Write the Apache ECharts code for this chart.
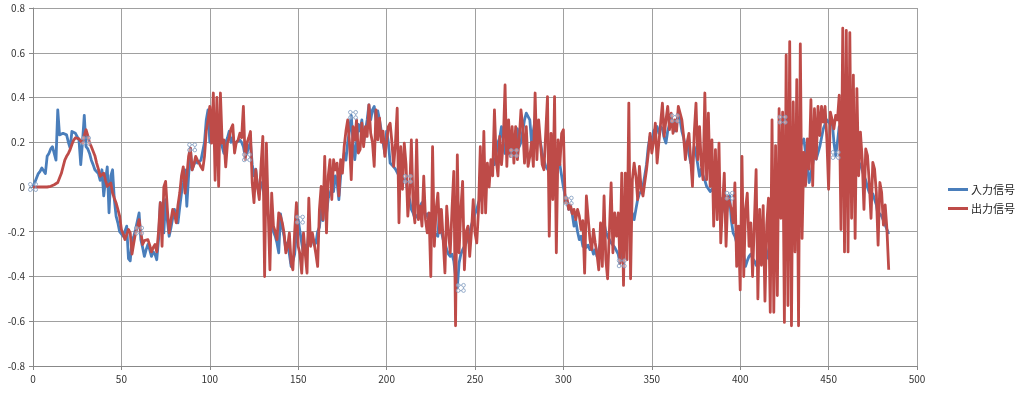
<!DOCTYPE html>
<html>
<head>
<meta charset="utf-8">
<script src="https://cdn.jsdelivr.net/npm/echarts@6/dist/echarts.min.js"></script>
<style>
html,body{margin:0;padding:0;background:#fff;}
#chart{width:1024px;height:394px;}
</style>
</head>
<body>
<div id="chart"></div>
<script>
// ---- Data ----
const seriesNames = ['入力信号', '出力信号'];
const xTicks = [0, 50, 100, 150, 200, 250, 300, 350, 400, 450, 500];
const yTicks = [-0.8, -0.6, -0.4, -0.2, 0, 0.2, 0.4, 0.6, 0.8];

// 入力信号 (input), index = sample number
const inputSignal = [
  0, 0.02, 0.04, 0.06, 0.07, 0.085, 0.08, 0.06, 0.137, 0.15,
  0.17, 0.18, 0.185, 0.12, 0.345, 0.233, 0.235, 0.24, 0.238, 0.233,
  0.2, 0.174, 0.248, 0.245, 0.24, 0.225, 0.21, 0.1, 0.2, 0.32,
  0.18, 0.17, 0.15, 0.12, 0.1, 0.077, 0.07, 0.06, 0.03, 0.077,
  -0.04, 0.03, 0.09, -0.115, 0.05, 0.077, -0.056, -0.13, -0.16, -0.2,
  -0.21, -0.22, -0.228, -0.175, -0.32, -0.33, -0.24, -0.22, -0.19, -0.195,
  -0.116, -0.235, -0.27, -0.31, -0.28, -0.257, -0.28, -0.31, -0.29, -0.3,
  -0.325, -0.235, -0.07, -0.15, -0.205, -0.057, -0.15, -0.22, -0.183, -0.14,
  -0.1, -0.13, -0.16, -0.09, -0.027, 0.02, 0.077, -0.086, 0.05, 0.174,
  0.077, 0.1, 0.12, 0.107, 0.107, 0.12, 0.12, 0.2, 0.3, 0.345,
  0.2, 0.3, 0.25, 0.18, 0.15, 0.22, 0.2, 0.18, 0.15, 0.2,
  0.22, 0.25, 0.2, 0.22, 0.18, 0.2, 0.196, 0.21, 0.2, 0.18,
  0.137, 0.15, 0.18, 0.2, 0.1, 0.05, 0.08, 0.0, -0.03, 0.02,
  0.003, -0.05, -0.1, -0.13, -0.15, -0.18, -0.2, -0.22, -0.25, -0.294,
  -0.12, -0.18, -0.22, -0.28, -0.25, -0.3, -0.355, -0.33, -0.3, -0.2,
  -0.146, -0.2, -0.25, -0.3, -0.26, -0.28, -0.2, -0.24, -0.22, -0.26,
  -0.25, -0.2, -0.18, -0.1, -0.15, -0.05, -0.12, -0.05, -0.03, 0.0,
  -0.02, 0.05, 0.02, -0.056, 0.05, 0.1, 0.15, 0.12, 0.2, 0.25,
  0.32, 0.2, 0.122, 0.2, 0.28, 0.25, 0.3, 0.2, 0.25, 0.3,
  0.367, 0.3, 0.345, 0.36, 0.3, 0.34, 0.3, 0.25, 0.2, 0.15,
  0.25, 0.2, 0.107, 0.1, 0.09, 0.08, 0.077, 0.05, 0.04, 0.02,
  0.018, 0.036, -0.03, -0.056, -0.1, -0.116, -0.14, -0.146, -0.12, -0.086,
  -0.07, -0.1, -0.13, -0.12, -0.16, -0.2, -0.22, -0.205, -0.205, -0.22,
  -0.1, -0.2, -0.235, -0.25, -0.28, -0.3, -0.31, -0.3, -0.33, -0.4,
  -0.45, -0.34, -0.3, -0.28, -0.265, -0.25, -0.22, -0.2, -0.17, -0.146,
  -0.12, -0.1, -0.07, -0.05, -0.03, -0.01, 0.003, 0.02, 0.05, 0.08,
  0.12, 0.1, 0.15, 0.2, 0.22, 0.27, 0.2, 0.15, 0.18, 0.15,
  0.152, 0.2, 0.22, 0.25, 0.26, 0.18, 0.2, 0.25, 0.3, 0.33,
  0.338, 0.3, 0.2, 0.25, 0.3, 0.27, 0.22, 0.2, 0.15, 0.12,
  0.092, 0.08, 0.07, 0.06, 0.08, 0.1, 0.11, 0.122, 0.1, 0.05,
  0.0, -0.04, -0.061, -0.1, -0.09, -0.12, -0.175, -0.15, -0.2, -0.235,
  -0.22, -0.265, -0.25, -0.27, -0.26, -0.28, -0.27, -0.3, -0.28, -0.31,
  -0.28, -0.25, -0.2, -0.16, -0.2, -0.22, -0.235, -0.25, -0.26, -0.27,
  -0.265, -0.3, -0.341, -0.25, -0.205, -0.18, -0.12, -0.086, -0.1, -0.12,
  -0.146, -0.1, -0.056, -0.03, -0.02, 0.003, 0.05, 0.1, 0.18, 0.226,
  0.2, 0.25, 0.26, 0.27, 0.24, 0.27, 0.26, 0.22, 0.196, 0.25,
  0.28, 0.3, 0.307, 0.25, 0.28, 0.33, 0.3, 0.25, 0.22, 0.18,
  0.2, 0.15, 0.107, 0.12, 0.18, 0.15, 0.1, 0.048, 0.08, 0.05,
  0.03, 0.003, 0.01, -0.02, -0.01, -0.027, -0.03, -0.05, -0.04, -0.06,
  -0.05, -0.1, -0.13, -0.08, -0.039, -0.15, -0.205, -0.22, -0.25, -0.265,
  -0.265, -0.28, -0.3, -0.355, -0.33, -0.31, -0.3, -0.32, -0.33, -0.35,
  -0.35, -0.33, -0.3, -0.28, -0.25, -0.3, -0.32, -0.2, -0.15, -0.1,
  -0.1, -0.05, 0.0, 0.05, 0.1, 0.05, 0.08, 0.1, 0.12, 0.15,
  0.12, 0.15, 0.18, 0.2, 0.18, 0.2, 0.215, 0.15, 0.1, 0.02,
  0.02, 0.1, 0.155, 0.125, 0.125, 0.18, 0.22, 0.26, 0.28, 0.3,
  0.3, 0.28, 0.3, 0.2, 0.14, 0.2, 0.27, 0.25, 0.27, 0.2,
  0.2, 0.18, 0.15, 0.17, 0.14, 0.12, 0.13, 0.11, 0.1, 0.095,
  0.05, 0.03, 0.0, -0.025, -0.02, -0.03, -0.055, -0.08, -0.13, -0.12,
  -0.13, -0.15, -0.17, -0.19, -0.21
];

// 出力信号 (output), index = sample number
const outputSignal = [
  0, 0, 0, 0, 0, 0, 0, 0, 0, 0,
  0.003, 0.005, 0.01, 0.015, 0.02, 0.04, 0.06, 0.09, 0.12, 0.137,
  0.15, 0.167, 0.19, 0.21, 0.22, 0.218, 0.215, 0.21, 0.196, 0.23,
  0.256, 0.23, 0.196, 0.18, 0.174, 0.14, 0.107, 0.08, 0.048, 0.05,
  0.062, 0.03, 0.003, 0.01, 0.018, -0.027, -0.05, -0.071, -0.1, -0.13,
  -0.19, -0.21, -0.235, -0.235, -0.19, -0.205, -0.3, -0.25, -0.205, -0.18,
  -0.146, -0.2, -0.257, -0.24, -0.24, -0.235, -0.26, -0.29, -0.27, -0.257,
  -0.29, -0.2, -0.07, -0.265, 0.0, 0.025, -0.1, -0.205, -0.15, -0.1,
  -0.12, -0.16, -0.08, -0.027, 0.05, 0.09, -0.027, 0.05, 0.137, 0.174,
  0.077, 0.1, 0.137, 0.12, 0.107, 0.09, 0.077, 0.137, 0.25, 0.3,
  0.36, 0.196, 0.42, 0.03, 0.4, 0.003, 0.42, 0.196, 0.21, 0.09,
  0.196, 0.22, 0.26, 0.278, 0.152, 0.2, 0.21, 0.24, 0.22, 0.36,
  0.122, 0.196, 0.22, 0.248, 0.018, -0.07, 0.077, 0.0, -0.056, 0.1,
  0.226, -0.4, 0.196, -0.1, -0.37, -0.027, -0.175, -0.2, -0.235, -0.116,
  -0.13, -0.16, -0.205, -0.294, -0.265, -0.205, -0.34, -0.37, -0.2, -0.07,
  -0.265, -0.3, -0.385, -0.205, -0.3, -0.385, -0.05, -0.265, -0.205, -0.25,
  -0.3, -0.355, -0.1, 0.003, -0.146, 0.137, -0.205, 0.05, 0.122, -0.056,
  0.122, 0.077, 0.107, -0.04, 0.122, 0.062, 0.18, 0.25, 0.3, 0.2,
  0.033, 0.27, 0.21, 0.3, 0.152, 0.167, 0.285, 0.18, 0.27, 0.226,
  0.367, 0.24, 0.2, 0.092, 0.345, 0.211, 0.308, 0.2, 0.25, 0.137,
  0.2, 0.27, 0.285, 0.2, 0.092, 0.196, 0.352, -0.16, 0.18, -0.01,
  0.196, 0.1, -0.13, -0.027, 0.21, -0.086, -0.16, 0.21, -0.146, -0.086,
  -0.175, 0.048, -0.146, -0.205, -0.116, -0.4, 0.18, -0.265, -0.1, -0.027,
  -0.205, -0.1, -0.235, -0.384, -0.086, -0.2, -0.294, -0.1, 0.07, -0.62,
  0.144, -0.294, -0.1, 0.025, -0.37, -0.2, -0.175, -0.31, -0.2, -0.056,
  -0.205, -0.25, -0.1, 0.18, -0.116, 0.248, -0.116, 0.107, 0.0, 0.122,
  0.05, 0.345, 0.12, 0.05, 0.226, 0.1, 0.2, 0.456, 0.092, 0.3,
  0.137, 0.27, 0.107, 0.27, 0.122, 0.21, 0.345, 0.27, 0.107, 0.27,
  0.092, 0.137, 0.2, 0.092, 0.42, 0.122, 0.3, 0.2, 0.1, 0.077,
  0.077, 0.404, -0.22, 0.24, -0.056, 0.404, -0.294, 0.211, 0.1, 0.24,
  0.256, -0.07, -0.05, -0.1, -0.08, -0.12, -0.1, -0.146, -0.1, -0.13,
  -0.19, -0.15, -0.385, -0.04, -0.04, -0.235, -0.28, -0.19, -0.25, -0.3,
  -0.37, -0.16, -0.355, -0.04, -0.325, -0.41, -0.2, 0.018, -0.294, -0.116,
  -0.22, -0.116, -0.34, 0.062, -0.44, 0.062, -0.325, 0.375, -0.41, 0.033,
  0.107, 0.05, -0.056, 0.092, -0.01, -0.04, 0.02, 0.077, 0.15, 0.24,
  0.152, 0.2, 0.285, 0.107, 0.2, 0.285, 0.375, 0.226, 0.3, 0.36,
  0.256, 0.33, 0.24, 0.3, 0.25, 0.36, 0.33, 0.3, 0.226, 0.122,
  0.2, 0.24, 0.122, 0.003, 0.24, 0.375, 0.122, 0.27, 0.1, 0.033,
  0.42, 0.033, 0.33, 0.003, 0.211, -0.175, 0.167, -0.146, 0.196, -0.25,
  -0.086, 0.062, -0.265, -0.043, -0.07, -0.1, -0.16, 0.018, -0.355, -0.175,
  -0.46, 0.137, -0.4, -0.1, -0.027, -0.265, -0.16, -0.4, -0.16, 0.077,
  -0.5, -0.1, -0.35, -0.083, -0.51, -0.17, -0.05, -0.56, 0.3, -0.56,
  0.185, -0.485, 0.35, -0.14, 0.335, -0.605, 0.59, -0.53, 0.65, -0.62,
  0.38, -0.29, 0.48, -0.62, 0.64, -0.23, 0.155, 0.006, 0.215, 0.08,
  0.39, 0.006, 0.35, 0.125, 0.36, 0.23, 0.36, 0.29, 0.36, 0.215,
  -0.01, 0.335, 0.3, 0.26, 0.32, 0.3, 0.41, -0.19, 0.71, -0.29,
  0.7, -0.29, 0.69, -0.14, 0.5, -0.23, 0.44, 0.05, 0.245, 0.125,
  -0.1, 0.17, 0.14, 0.02, -0.14, 0.11, 0.08, -0.025, -0.26, 0.02,
  -0.025, -0.17, -0.08, -0.19, -0.37
];

// selection handles seen on the input line
const handleX = [0, 30, 60, 90, 121, 151, 181, 212, 242, 272, 303, 333, 363, 394, 424, 454];
const handleY = [0, 0.207, -0.195, 0.177, 0.133, -0.146, 0.322, 0.036, -0.451, 0.152, -0.061, -0.341, 0.307, -0.039, 0.301, 0.143];

// ---- Chart ----
const chart = echarts.init(document.getElementById('chart'), null, {renderer: 'canvas'});
const FONT = '"Noto Sans CJK JP", "Noto Sans", sans-serif';
const toXY = arr => arr.map((v, i) => [i, v]);

const handleSymbol = 'path://M0,2a2,2 0 1,0 4,0a2,2 0 1,0 -4,0M6,2a2,2 0 1,0 4,0a2,2 0 1,0 -4,0M0,8a2,2 0 1,0 4,0a2,2 0 1,0 -4,0M6,8a2,2 0 1,0 4,0a2,2 0 1,0 -4,0M4,2L6,2M8,4L8,6M6,8L4,8M2,6L2,4';

const option = {
  animation: false,
  backgroundColor: '#ffffff',
  grid: {left: 33, right: 107, top: 8, bottom: 28, containLabel: false},
  legend: {
    data: seriesNames,
    orient: 'vertical',
    left: 943,
    top: 179,
    icon: 'rect',
    itemWidth: 20,
    itemHeight: 3,
    itemGap: 8,
    textStyle: {fontFamily: FONT, fontSize: 11, color: '#222', padding: [0, 0, 0, -2]}
  },
  xAxis: {
    type: 'value',
    min: xTicks[0],
    max: xTicks[xTicks.length - 1],
    interval: xTicks[1] - xTicks[0],
    axisLine: {show: true, onZero: false, lineStyle: {color: '#888', width: 1}},
    axisTick: {show: true, length: 4, lineStyle: {color: '#888'}},
    axisLabel: {fontFamily: FONT, fontSize: 10, color: '#333', margin: 8},
    splitLine: {show: true, lineStyle: {color: '#a0a0a0', width: 1}}
  },
  yAxis: {
    type: 'value',
    min: yTicks[0],
    max: yTicks[yTicks.length - 1],
    interval: 0.2,
    axisLine: {show: true, onZero: false, lineStyle: {color: '#888', width: 1}},
    axisTick: {show: true, length: 4, lineStyle: {color: '#888'}},
    axisLabel: {fontFamily: FONT, fontSize: 10, color: '#333', margin: 8,
      formatter: v => String(Math.round(v * 10) / 10)},
    splitLine: {show: true, lineStyle: {color: '#a0a0a0', width: 1}}
  },
  series: [
    {
      name: seriesNames[0],
      type: 'line',
      data: toXY(inputSignal),
      symbol: 'none',
      lineStyle: {color: '#4a7ebb', width: 2.8, join: 'round'},
      itemStyle: {color: '#4a7ebb'},
      z: 2
    },
    {
      name: seriesNames[1],
      type: 'line',
      data: toXY(outputSignal),
      symbol: 'none',
      lineStyle: {color: '#be4b48', width: 2.8, join: 'round'},
      itemStyle: {color: '#be4b48'},
      z: 3
    },
    {
      name: 'handles',
      type: 'scatter',
      data: handleX.map((x, i) => [x, handleY[i]]),
      symbol: handleSymbol,
      symbolSize: 9,
      itemStyle: {color: 'rgba(255,255,255,0.5)', borderColor: '#7f9bbf', borderWidth: 1},
      z: 5,
      silent: true
    }
  ]
};
chart.setOption(option);
</script>
</body>
</html>
